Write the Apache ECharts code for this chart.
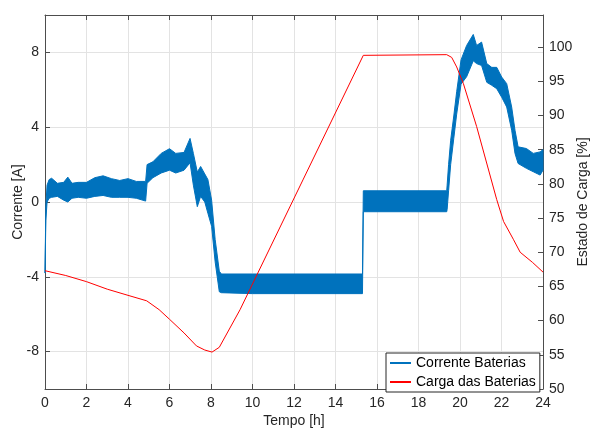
<!DOCTYPE html>
<html>
<head>
<meta charset="utf-8">
<script src="https://cdn.jsdelivr.net/npm/echarts@6/dist/echarts.min.js"></script>
<style>html,body{margin:0;padding:0;background:#fff}#c{width:591px;height:428px}</style>
</head>
<body>
<div id="c"></div>
<script>
// ---- Data ----
// Battery current envelope (noisy signal shown as a band): time [h], lower and upper edge [A]
const bandTime = [0, 0.04, 0.1, 0.2, 0.32, 0.6, 0.9, 1.1, 1.3, 1.6, 2.0, 2.4, 2.8, 3.2, 3.6, 4.0, 4.4, 4.85,
  4.92, 5.2, 5.6, 6.0, 6.3, 6.7, 6.99, 7.15, 7.34, 7.5, 7.7, 7.85, 8.03, 8.2, 8.4, 8.5,
  10.0, 12.0, 15.3, 15.34, 19.36, 19.38, 19.45, 19.55, 19.7, 19.84, 20.05, 20.32, 20.64, 20.8, 21.04,
  21.29, 21.53, 21.77, 22.01, 22.25, 22.49, 22.65, 22.8, 23.2, 23.53, 23.86, 24];
const bandLow = [-3.8, -1.0, 0.0, 0.2, 0.25, 0.3, 0.1, 0.0, 0.2, 0.25, 0.2, 0.3, 0.35, 0.25, 0.25, 0.25, 0.2, 0.05,
  1.0, 1.3, 1.55, 1.7, 1.55, 1.7, 2.1, 0.9, -0.25, 0.3, 0.0, -0.6, -1.3, -3.2, -4.8, -4.85,
  -4.9, -4.9, -4.9, -0.52, -0.52, -0.4, 0.6, 2.0, 3.4, 4.7, 6.3, 6.7, 7.55, 7.4, 7.3,
  6.4, 6.24, 6.06, 5.6, 5.08, 3.84, 2.6, 2.06, 1.8, 1.62, 1.44, 1.7];
const bandHigh = [-3.8, -0.2, 0.9, 1.2, 1.27, 1.0, 1.05, 1.33, 1.0, 1.05, 1.05, 1.3, 1.4, 1.25, 1.15, 1.25, 1.1, 1.1,
  2.0, 2.15, 2.6, 2.85, 2.6, 2.65, 3.4, 2.6, 1.6, 1.9, 1.5, 1.2, 0.1, -2.0, -3.7, -3.85,
  -3.85, -3.85, -3.85, 0.6, 0.6, 0.9, 2.0, 3.3, 4.6, 5.9, 7.6, 8.37, 8.96, 8.37, 8.55,
  7.4, 7.2, 7.2, 6.68, 6.33, 5.08, 3.84, 2.95, 2.86, 2.6, 2.68, 2.8];

// State of charge [%]
const socTime = [0, 1, 2, 3, 4, 4.9, 5.5, 6.0, 6.7, 7.3, 7.7, 8.05, 8.4, 9.4, 12.45, 15.34,
  19.36, 19.6, 19.84, 20.16, 20.8, 21.77, 22.1, 22.57, 22.9, 23.5, 24];
const socVal = [67.3, 66.6, 65.7, 64.6, 63.7, 62.9, 61.6, 60.2, 58.2, 56.3, 55.7, 55.4, 56.1, 61.6, 80.7, 98.8,
  98.9, 98.5, 97.1, 94.7, 88.4, 77.7, 74.5, 71.9, 70.0, 68.5, 67.1];

// Axis ticks
const xTicks = [0, 2, 4, 6, 8, 10, 12, 14, 16, 18, 20, 22, 24];
const leftTicks = [-8, -4, 0, 4, 8];
const rightTicks = [50, 55, 60, 65, 70, 75, 80, 85, 90, 95, 100];

const seriesNames = ['Corrente Baterias', 'Carga das Baterias'];

// ---- Chart ----
const FONT = 'Liberation Sans';
const AX = '#4d4d4d';
const TXT = '#262626';
const chart = echarts.init(document.getElementById('c'), null, {renderer: 'canvas'});

const bandData = bandTime.map((t, i) => [t, bandLow[i], bandHigh[i]]);
const socData = socTime.map((t, i) => [t, socVal[i]]);

const option = {
  animation: false,
  backgroundColor: '#fff',
  textStyle: {fontFamily: FONT},
  grid: {left: 45, right: 48, top: 15, bottom: 39, containLabel: false, outerBoundsMode: 'none'},
  legend: {
    data: seriesNames,
    orient: 'vertical',
    left: 386, top: 353,
    itemWidth: 21, itemHeight: 14, itemGap: 5,
    padding: [3, 4, 3, 3],
    backgroundColor: '#fff',
    borderColor: '#262626', borderWidth: 1, borderRadius: 0,
    selectedMode: false,
    itemStyle: {opacity: 0},
    textStyle: {fontSize: 14, color: '#000', fontFamily: FONT, padding: [0, 0, 0, 0]},
    z: 10
  },
  xAxis: [{
    type: 'value', min: 0, max: 24, interval: 2,
    name: 'Tempo [h]', nameLocation: 'middle', nameGap: 25, nameMoveOverlap: false,
    nameTextStyle: {fontSize: 14, color: TXT, fontFamily: FONT},
    axisLine: {show: true, onZero: false, lineStyle: {color: AX, width: 1}},
    axisTick: {show: true, inside: true, length: 5, lineStyle: {color: AX}},
    axisLabel: {fontSize: 14, color: TXT, margin: 7, fontFamily: FONT},
    splitLine: {show: true, lineStyle: {color: '#e3e3e3', width: 1}}
  }, {
    type: 'value', min: 0, max: 24, interval: 2, position: 'top',
    axisLine: {show: true, onZero: false, lineStyle: {color: AX, width: 1}},
    axisTick: {show: true, inside: true, length: 5, lineStyle: {color: AX}},
    axisLabel: {show: false},
    splitLine: {show: false}
  }],
  yAxis: [{
    type: 'value', min: -10, max: 10, position: 'left',
    name: 'Corrente [A]', nameLocation: 'middle', nameGap: 20, nameRotate: 90, nameMoveOverlap: false,
    nameTextStyle: {fontSize: 14, color: TXT, fontFamily: FONT},
    axisLine: {show: true, onZero: false, lineStyle: {color: AX, width: 1}},
    axisTick: {show: true, inside: true, length: 5, lineStyle: {color: AX}, customValues: leftTicks},
    axisLabel: {fontSize: 14, color: TXT, margin: 6, fontFamily: FONT, customValues: leftTicks},
    splitLine: {show: true, lineStyle: {color: '#e3e3e3', width: 1}}
  }, {
    type: 'value', min: 50, max: 104.7, position: 'right',
    name: 'Estado de Carga [%]', nameLocation: 'middle', nameGap: 33, nameRotate: 90, nameMoveOverlap: false,
    nameTextStyle: {fontSize: 14, color: TXT, fontFamily: FONT},
    axisLine: {show: true, onZero: false, lineStyle: {color: AX, width: 1}},
    axisTick: {show: true, inside: true, length: 5, lineStyle: {color: AX}, customValues: rightTicks},
    axisLabel: {fontSize: 14, color: TXT, margin: 6, fontFamily: FONT, customValues: rightTicks},
    splitLine: {show: false}
  }],
  series: [{
    name: 'bandaCorrente',
    type: 'custom',
    xAxisIndex: 0, yAxisIndex: 0,
    data: bandData,
    encode: {x: 0, y: [1, 2]},
    z: 2,
    renderItem: function (params, api) {
      if (params.dataIndex !== 0) return null;
      const up = [], lo = [];
      for (let i = 0; i < bandData.length; i++) {
        up.push(api.coord([bandData[i][0], bandData[i][2]]));
        lo.push(api.coord([bandData[i][0], bandData[i][1]]));
      }
      const pts = up.concat(lo.reverse());
      return {
        type: 'polygon',
        shape: {points: pts},
        style: {fill: '#0072BD', stroke: '#0072BD', lineWidth: 1}
      };
    }
  }, {
    name: seriesNames[0],
    type: 'line',
    xAxisIndex: 0, yAxisIndex: 0,
    data: [],
    symbol: 'none',
    lineStyle: {color: '#0072BD', width: 1},
    itemStyle: {color: '#0072BD'}
  }, {
    name: seriesNames[1],
    type: 'line',
    xAxisIndex: 0, yAxisIndex: 1,
    data: socData,
    symbol: 'none',
    z: 5,
    lineStyle: {color: '#FF0000', width: 1},
    itemStyle: {color: '#FF0000'}
  }]
};
chart.setOption(option);
</script>
</body>
</html>
